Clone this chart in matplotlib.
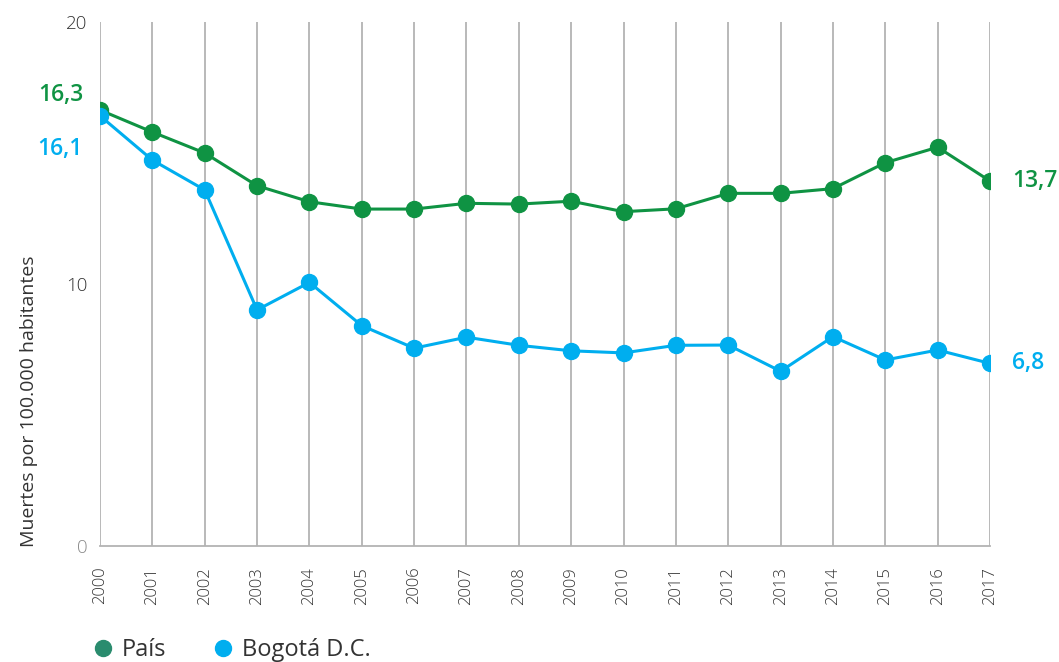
import matplotlib
matplotlib.use("Agg")
import matplotlib.pyplot as plt
from matplotlib.lines import Line2D

years = list(range(2000, 2018))
pais = [16.64, 15.80, 15.00, 13.75, 13.14, 12.86, 12.86, 13.08, 13.05, 13.16,
        12.76, 12.87, 13.46, 13.46, 13.64, 14.63, 15.22, 13.93]
bogota = [16.42, 14.73, 13.59, 9.01, 10.06, 8.41, 7.55, 7.97, 7.66, 7.45,
          7.37, 7.66, 7.67, 6.67, 7.99, 7.10, 7.48, 6.97]
pais_labels = ["16,3", "13,7"]      # printed first / last values
bogota_labels = ["16,1", "6,8"]
series_names = ["País", "Bogotá D.C."]
y_ticks = [0, 10, 20]
y_label = "Muertes por 100.000 habitantes"

green = "#0f9343"
blue = "#00aeef"
legend_green = "#2a8c6e"
grid_c = "#b3b3b3"
text_c = "#333333"

plt.rcParams['font.family'] = ['Open Sans', 'DejaVu Sans']

fig = plt.figure(figsize=(10.59, 6.62), dpi=100)
ax = fig.add_axes([100/1059, 1-546/662, 890/1059, 524/662])

for y in years:
    ax.axvline(y, color=grid_c, lw=1.3, zorder=1)

ax.plot(years, pais, color=green, lw=2.2, marker='o', ms=11.5, zorder=3)
ax.plot(years, bogota, color=blue, lw=2.2, marker='o', ms=11.5, zorder=3)

ax.set_xlim(years[0], years[-1])
ax.set_ylim(0, 20)
ax.set_xticks(years)
ax.set_xticklabels([str(y) for y in years], rotation=90, fontsize=12,
                   color=text_c, fontweight='light')
ax.set_yticks(y_ticks)
ylabels = ax.set_yticklabels([str(t) for t in y_ticks], fontsize=13.5, color=text_c,
                             fontweight='light')
ylabels[0].set_color("#8a8a8a")
ax.tick_params(axis='x', length=0, pad=15)
ax.tick_params(axis='y', length=0, pad=9)
for s in ['top', 'right', 'left']:
    ax.spines[s].set_visible(False)
ax.spines['bottom'].set_color(grid_c)
ax.spines['bottom'].set_linewidth(1.3)

ax.set_ylabel(y_label, fontsize=14, color=text_c)
ax.yaxis.set_label_coords(-0.0697, 0.277)

lab_kw = dict(textcoords='offset pixels', fontsize=16.5, fontweight='semibold',
              annotation_clip=False, va='center')
ax.annotate(pais_labels[0], (years[0], pais[0]), xytext=(-17, 15), ha='right',
            color=green, **lab_kw)
ax.annotate(bogota_labels[0], (years[0], bogota[0]), xytext=(-17, -33), ha='right',
            color=blue, **lab_kw)
ax.annotate(pais_labels[1], (years[-1], pais[-1]), xytext=(22, 0), ha='left',
            color=green, **lab_kw)
ax.annotate(bogota_labels[1], (years[-1], bogota[-1]), xytext=(22, 0), ha='left',
            color=blue, **lab_kw)

handles = [Line2D([], [], marker='o', ls='', color=legend_green, ms=11.5),
           Line2D([], [], marker='o', ls='', color=blue, ms=11.5)]
fig.legend(handles, series_names, loc='center left',
           bbox_to_anchor=(93.6/1059, 1-650/662), ncol=2, frameon=False,
           fontsize=17, handletextpad=0.4, columnspacing=2.0, handlelength=0.8,
           labelcolor=text_c, borderaxespad=0, borderpad=0)

fig.savefig("out.png", dpi=100)
